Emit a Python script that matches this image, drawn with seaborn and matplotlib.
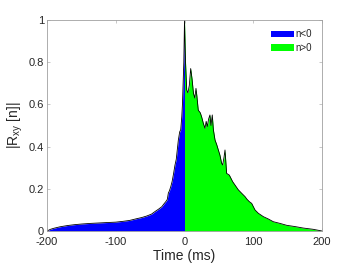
import matplotlib
matplotlib.use("Agg")
import matplotlib.pyplot as plt
import seaborn as sns
import numpy as np
import pandas as pd

x_neg = [-200, -195, -190, -181, -170, -160, -150, -137, -125, -113, -100, -89, -80, -70, -62, -55, -48,
         -43, -38, -33, -30, -27, -25, -23.5, -22, -20, -18, -16, -14, -12, -11, -9, -7, -5.5, -4, -3, -2, -1, 0]
y_neg = [0, 0.008, 0.013, 0.02, 0.026, 0.03, 0.033, 0.036, 0.038, 0.04, 0.042, 0.046, 0.05, 0.058, 0.064,
         0.071, 0.08, 0.092, 0.103, 0.115, 0.128, 0.14, 0.15, 0.18, 0.19, 0.21, 0.235, 0.27, 0.31, 0.34, 0.37,
         0.43, 0.47, 0.48, 0.54, 0.6, 0.7, 0.8, 1.0]

x_pos = [0, 1.5, 3.2, 5, 7, 9, 11, 13, 15, 16.7, 18, 20, 23, 25, 27.4, 29.8, 31.5, 33.2, 35, 37, 38.5, 40.4,
         42, 44.4, 46.8, 49.2, 51.5, 54, 55.5, 57.5, 58.9, 61.3, 65.2, 70, 73.4, 78.3, 83.1, 88, 91, 94.3, 97.7,
         102.5, 107.4, 114.7, 121.9, 129.2, 138.9, 148.6, 160.7, 172.8, 187.3, 200]
y_pos = [1.0, 0.8, 0.668, 0.655, 0.69, 0.77, 0.72, 0.653, 0.63, 0.676, 0.64, 0.573, 0.56, 0.54, 0.51, 0.487,
         0.52, 0.495, 0.53, 0.55, 0.5, 0.55, 0.48, 0.431, 0.41, 0.384, 0.36, 0.321, 0.313, 0.35, 0.384, 0.273,
         0.265, 0.234, 0.218, 0.195, 0.179, 0.163, 0.15, 0.139, 0.131, 0.1, 0.084, 0.068, 0.057, 0.044, 0.036,
         0.027, 0.021, 0.014, 0.008, 0.0]

legend_labels = ["n<0", "n>0"]
x_ticks = [-200, -100, 0, 100, 200]
y_ticks = [0, 0.2, 0.4, 0.6, 0.8, 1]
y_ticklabels = ["0", "0.2", "0.4", "0.6", "0.8", "1"]

sns.set_theme(style="white")
plt.rcParams['font.family'] = ['Liberation Sans', 'DejaVu Sans']
plt.rcParams['axes.unicode_minus'] = False

fig = plt.figure(figsize=(3.56, 2.67), dpi=100)
ax = fig.add_axes([47/356, 36/267, 275/356, 211/267])

ax.fill_between(x_neg, y_neg, 0, color="#0000ff", linewidth=0, label=legend_labels[0])
ax.fill_between(x_pos, y_pos, 0, color="#00ff00", linewidth=0, label=legend_labels[1])

df = pd.DataFrame({"x": x_neg + x_pos[1:], "y": y_neg + y_pos[1:]})
sns.lineplot(data=df, x="x", y="y", ax=ax, color="black", linewidth=0.6, sort=False, estimator=None)

ax.set_xlim(-200, 200)
ax.set_ylim(0, 1)
ax.set_xticks(x_ticks)
ax.set_yticks(y_ticks)
ax.set_yticklabels(y_ticklabels)
ax.tick_params(direction="in", length=2.5, width=0.5, colors="#b0b0b0", labelcolor="#262626",
               labelsize=8, pad=2, top=True, right=True, bottom=True, left=True)
ax.tick_params(axis="x", pad=4)
for s in ax.spines.values():
    s.set_color("#a0a0a0")
    s.set_linewidth(0.6)

ax.set_xlabel("Time (ms)", fontsize=10, color="#262626", labelpad=2)
ax.set_ylabel(r"|R$_{\mathregular{xy}}$ [n]|", fontsize=10, color="#262626", labelpad=3)

ax.legend(loc="upper right", bbox_to_anchor=(0.965, 0.955), frameon=False, fontsize=7,
          handlelength=2.4, handleheight=0.7, handletextpad=0.2, labelspacing=0.35,
          borderpad=0, borderaxespad=0)

fig.savefig("out.png", dpi=100)
